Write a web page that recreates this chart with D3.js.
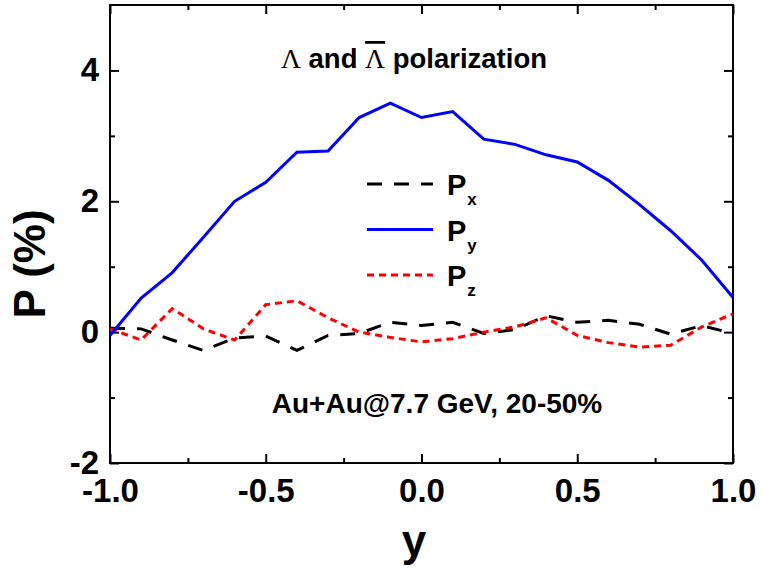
<!DOCTYPE html>
<html>
<head>
<meta charset="utf-8">
<script src="https://cdn.jsdelivr.net/npm/d3@7"></script>
<style>
body { margin: 0; background: #fff; }
text { font-family: Arial, "Liberation Sans", sans-serif; font-weight: bold; fill: #000; }
</style>
</head>
<body>
<script>
// rapidity values and polarization components (%)
var rap = [-1.0,-0.9,-0.8,-0.7,-0.6,-0.5,-0.4,-0.3,-0.2,-0.1,0.0,0.1,0.2,0.3,0.4,0.5,0.6,0.7,0.8,0.9,1.0];
var px = [0.06,0.05,-0.12,-0.28,-0.09,-0.06,-0.28,-0.05,-0.02,0.15,0.10,0.15,-0.02,0.04,0.25,0.15,0.18,0.12,-0.03,0.10,-0.02];
var py = [-0.05,0.52,0.91,1.45,2.0,2.29,2.75,2.77,3.28,3.5,3.28,3.37,2.95,2.87,2.71,2.6,2.32,1.95,1.55,1.1,0.53];
var pz = [0.05,-0.12,0.36,0.05,-0.12,0.42,0.48,0.22,0.0,-0.08,-0.15,-0.1,0.0,0.08,0.22,-0.05,-0.16,-0.23,-0.2,0.08,0.28];

var xMajor = [-1.0,-0.5,0.0,0.5,1.0];
var xMinor = [-0.75,-0.25,0.25,0.75];
var yMajor = [-2,0,2,4];
var yMinor = [-1,1,3];

var width = 761, height = 572;
var pLeft = 110, pRight = 733, pTop = 5, pBottom = 463;

var svg = d3.select("body").append("svg")
	.attr("width", width)
	.attr("height", height);

var x = d3.scaleLinear().domain([-1,1]).range([pLeft,pRight]);
var y = d3.scaleLinear().domain([-2,5]).range([pBottom,pTop]);

function hyphen(f){
	return function(d){ return f(d).replace("\u2212","-"); };
}

function styleAxis(g){
	g.select(".domain").remove();
	g.selectAll("line").attr("stroke","#000").attr("stroke-width",2);
	g.selectAll("text").style("font-size","33px").style("font-family","Arial, 'Liberation Sans', sans-serif").style("font-weight","bold");
}

// bottom
svg.append("g").attr("transform","translate(0,"+pBottom+")")
	.call(d3.axisBottom(x).tickValues(xMajor).tickFormat(hyphen(d3.format(".1f"))).tickSizeInner(-9).tickSizeOuter(0).tickPadding(16))
	.call(styleAxis);
svg.append("g").attr("transform","translate(0,"+pBottom+")")
	.call(d3.axisBottom(x).tickValues(xMinor).tickFormat("").tickSizeInner(-5).tickSizeOuter(0))
	.call(styleAxis);
// top
svg.append("g").attr("transform","translate(0,"+pTop+")")
	.call(d3.axisTop(x).tickValues(xMajor).tickFormat("").tickSizeInner(-9).tickSizeOuter(0))
	.call(styleAxis);
svg.append("g").attr("transform","translate(0,"+pTop+")")
	.call(d3.axisTop(x).tickValues(xMinor).tickFormat("").tickSizeInner(-5).tickSizeOuter(0))
	.call(styleAxis);
// left
svg.append("g").attr("transform","translate("+pLeft+",0)")
	.call(d3.axisLeft(y).tickValues(yMajor).tickFormat(hyphen(d3.format("d"))).tickSizeInner(-9).tickSizeOuter(0).tickPadding(11))
	.call(styleAxis);
svg.append("g").attr("transform","translate("+pLeft+",0)")
	.call(d3.axisLeft(y).tickValues(yMinor).tickFormat("").tickSizeInner(-5).tickSizeOuter(0))
	.call(styleAxis);
// right
svg.append("g").attr("transform","translate("+pRight+",0)")
	.call(d3.axisRight(y).tickValues(yMajor).tickFormat("").tickSizeInner(-9).tickSizeOuter(0))
	.call(styleAxis);
svg.append("g").attr("transform","translate("+pRight+",0)")
	.call(d3.axisRight(y).tickValues(yMinor).tickFormat("").tickSizeInner(-5).tickSizeOuter(0))
	.call(styleAxis);

svg.append("rect")
	.attr("x",pLeft).attr("y",pTop)
	.attr("width",pRight-pLeft).attr("height",pBottom-pTop)
	.attr("fill","none").attr("stroke","#000").attr("stroke-width",2);

var series = [
	{name:"x", vals:px, color:"#000", dash:"15,12"},
	{name:"y", vals:py, color:"#0000ff", dash:null},
	{name:"z", vals:pz, color:"#ff0000", dash:"7,5"}
];

var line = d3.line()
	.x(function(d,i){ return x(rap[i]); })
	.y(function(d){ return y(d); });

var plot = svg.append("g");
plot.selectAll(".curve")
	.data([series[0],series[2],series[1]])
	.enter()
	.append("path")
	.attr("class","curve")
	.attr("d",function(s){ return line(s.vals); })
	.attr("fill","none")
	.attr("stroke",function(s){ return s.color; })
	.attr("stroke-width",3)
	.attr("stroke-dasharray",function(s){ return s.dash; });

// legend
var leg = svg.selectAll(".leg")
	.data(series)
	.enter()
	.append("g")
	.attr("class","leg")
	.attr("transform",function(d,i){ return "translate(367,"+(184+i*45.5)+")"; });
leg.append("line")
	.attr("x1",0).attr("x2",66)
	.attr("y1",0).attr("y2",0)
	.attr("stroke",function(d){ return d.color; })
	.attr("stroke-width",3)
	.attr("stroke-dasharray",function(d){ return d.dash; });
var lt = leg.append("text")
	.attr("x",80).attr("y",11)
	.style("font-size","29px");
lt.append("tspan").text("P");
lt.append("tspan").attr("dy",10).attr("dx",1).style("font-size","17px").text(function(d){ return d.name; });

// title
var title = svg.append("text")
	.attr("x",414).attr("y",68)
	.attr("text-anchor","middle")
	.style("font-size","27.5px");
title.append("tspan").style("font-family","'Liberation Serif', 'Times New Roman', serif").style("font-weight","normal").text("\u039B");
title.append("tspan").text(" and ");
title.append("tspan").style("font-family","'Liberation Serif', 'Times New Roman', serif").style("font-weight","normal").style("text-decoration","overline").text("\u039B");
title.append("tspan").text(" polarization");

svg.append("text")
	.attr("x",437).attr("y",413)
	.attr("text-anchor","middle")
	.style("font-size","28px")
	.text("Au+Au@7.7 GeV, 20-50%");

// axis titles
svg.append("text")
	.attr("x",414).attr("y",556)
	.attr("text-anchor","middle")
	.style("font-size","44px")
	.text("y");
svg.append("text")
	.attr("transform","translate(45,264) rotate(-90)")
	.attr("text-anchor","middle")
	.style("font-size","44px")
	.text("P (%)");
</script>
</body>
</html>
